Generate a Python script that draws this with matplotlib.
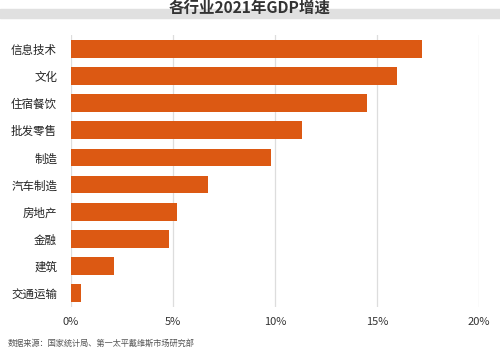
import matplotlib.pyplot as plt
from matplotlib import ticker

plt.rcParams['font.family'] = ['Noto Sans CJK SC', 'DejaVu Sans']

# Data
industries = ['信息技术', '文化', '住宿餐饮', '批发零售', '制造',
              '汽车制造', '房地产', '金融', '建筑', '交通运输']
growth = [17.2, 16.0, 14.5, 11.3, 9.8, 6.7, 5.2, 4.8, 2.1, 0.5]
x_ticks = [0, 5, 10, 15, 20]

BAR_COLOR = '#DC5913'
TEXT_COLOR = '#333333'

fig = plt.figure(figsize=(5.0, 3.54), dpi=100)
ax = fig.add_axes([71 / 500, 1 - 307 / 354, (479 - 71) / 500, (307 - 35) / 354])

positions = list(range(len(industries)))
ax.barh(positions, growth, height=0.66, color=BAR_COLOR, zorder=3)

ax.set_xlim(0, 20)
ax.set_ylim(len(industries) - 0.48, -0.52)
ax.set_xticks(x_ticks)
ax.xaxis.set_major_formatter(ticker.FuncFormatter(lambda v, p: f'{v:.0f}%'))
ax.set_yticks(positions)
ax.set_yticklabels(industries, fontsize=8.3, fontweight='medium', color='#222222')

ax.grid(axis='x', color='#dddddd', linewidth=0.9, zorder=0)
for side in ax.spines.values():
    side.set_visible(False)
ax.tick_params(axis='x', length=0, labelsize=8, labelcolor=TEXT_COLOR, pad=7)
ax.tick_params(axis='y', length=0, pad=10)

# Title band
fig.patches.append(plt.Rectangle((0, 1 - 18 / 354), 1, 9 / 354, transform=fig.transFigure,
                                 color='#e0e0e0', zorder=0))
fig.text(0.5, 1 - 9 / 354, '各行业2021年GDP增速', ha='center', va='center',
         fontsize=11.2, fontweight='bold', color=TEXT_COLOR)

fig.text(8 / 500, 1 - 343 / 354, '数据来源：国家统计局、第一太平戴维斯市场研究部',
         ha='left', va='center', fontsize=5.9, color='#555555', style='italic')

fig.savefig('out.png', dpi=100)
